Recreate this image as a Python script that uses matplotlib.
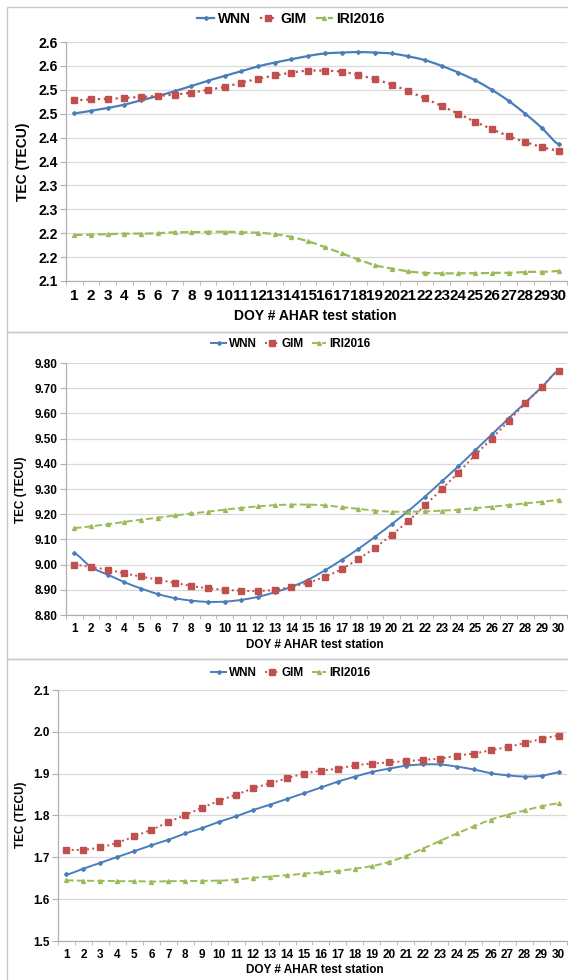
import numpy as np
import matplotlib
matplotlib.use("Agg")
import matplotlib.pyplot as plt
from matplotlib.patches import Rectangle

plt.rcParams['font.family'] = ['Liberation Sans', 'DejaVu Sans']

# ---- data ----
doy = list(range(1, 31))

# panel 1
wnn_1 = [2.451, 2.456, 2.462, 2.469, 2.478, 2.487, 2.497, 2.508, 2.519, 2.529,
         2.539, 2.549, 2.557, 2.564, 2.571, 2.576, 2.578, 2.579, 2.578, 2.576,
         2.570, 2.562, 2.550, 2.536, 2.520, 2.500, 2.477, 2.450, 2.420, 2.386]
gim_1 = [2.478, 2.480, 2.481, 2.483, 2.485, 2.487, 2.490, 2.494, 2.500, 2.506,
         2.515, 2.523, 2.530, 2.536, 2.540, 2.540, 2.538, 2.531, 2.522, 2.511,
         2.497, 2.482, 2.466, 2.450, 2.433, 2.418, 2.403, 2.391, 2.380, 2.373]
iri_1 = [2.196, 2.197, 2.198, 2.199, 2.199, 2.200, 2.202, 2.202, 2.203, 2.203,
         2.202, 2.201, 2.198, 2.192, 2.183, 2.171, 2.158, 2.145, 2.133, 2.126,
         2.120, 2.117, 2.116, 2.116, 2.116, 2.117, 2.117, 2.119, 2.119, 2.121]
yticks_1 = [2.10, 2.15, 2.20, 2.25, 2.30, 2.35, 2.40, 2.45, 2.50, 2.55, 2.60]
ylabels_1 = ["2.1", "2.2", "2.2", "2.3", "2.3", "2.4", "2.4", "2.5", "2.5", "2.6", "2.6"]

# panel 2
wnn_2 = [9.045, 8.990, 8.960, 8.930, 8.905, 8.883, 8.867, 8.857, 8.852, 8.853,
         8.860, 8.872, 8.890, 8.912, 8.940, 8.977, 9.018, 9.062, 9.110, 9.160,
         9.213, 9.270, 9.330, 9.390, 9.454, 9.517, 9.580, 9.643, 9.705, 9.770]
gim_2 = [9.000, 8.990, 8.980, 8.965, 8.953, 8.940, 8.928, 8.915, 8.906, 8.900,
         8.896, 8.895, 8.900, 8.912, 8.928, 8.952, 8.982, 9.022, 9.067, 9.118,
         9.173, 9.235, 9.300, 9.365, 9.435, 9.500, 9.570, 9.640, 9.705, 9.770]
iri_2 = [9.145, 9.152, 9.160, 9.170, 9.178, 9.186, 9.195, 9.203, 9.210, 9.218,
         9.225, 9.231, 9.236, 9.238, 9.238, 9.235, 9.228, 9.221, 9.214, 9.210,
         9.210, 9.211, 9.214, 9.218, 9.224, 9.230, 9.236, 9.243, 9.250, 9.256]
yticks_2 = [8.80, 8.90, 9.00, 9.10, 9.20, 9.30, 9.40, 9.50, 9.60, 9.70, 9.80]
ylabels_2 = ["8.80", "8.90", "9.00", "9.10", "9.20", "9.30", "9.40", "9.50", "9.60", "9.70", "9.80"]

# panel 3
wnn_3 = [1.659, 1.673, 1.687, 1.701, 1.715, 1.729, 1.742, 1.757, 1.770, 1.785,
         1.798, 1.813, 1.826, 1.840, 1.853, 1.867, 1.881, 1.893, 1.904, 1.912,
         1.919, 1.922, 1.922, 1.917, 1.910, 1.901, 1.896, 1.893, 1.895, 1.903]
gim_3 = [1.718, 1.718, 1.724, 1.735, 1.750, 1.766, 1.784, 1.801, 1.819, 1.835,
         1.850, 1.865, 1.877, 1.889, 1.900, 1.907, 1.912, 1.920, 1.924, 1.927,
         1.930, 1.933, 1.936, 1.943, 1.948, 1.956, 1.964, 1.973, 1.983, 1.991]
iri_3 = [1.645, 1.644, 1.644, 1.643, 1.643, 1.642, 1.643, 1.643, 1.644, 1.644,
         1.647, 1.651, 1.654, 1.657, 1.661, 1.664, 1.667, 1.673, 1.679, 1.689,
         1.703, 1.721, 1.739, 1.757, 1.774, 1.790, 1.802, 1.812, 1.822, 1.829]
yticks_3 = [1.5, 1.6, 1.7, 1.8, 1.9, 2.0, 2.1]
ylabels_3 = ["1.5", "1.6", "1.7", "1.8", "1.9", "2.0", "2.1"]

series_names = ["WNN", "GIM", "IRI2016"]
c_wnn = "#4a7ebb"
c_gim = "#c0504d"
c_iri = "#9bbb59"

W, H = 568., 980.


def smooth(x, y, n=12):
    """Catmull-Rom style smoothing, close to Excel's 'smoothed line'."""
    x = np.asarray(x, float)
    y = np.asarray(y, float)
    xs, ys = [], []
    for i in range(len(x) - 1):
        p0 = y[i - 1] if i > 0 else y[i]
        p1, p2 = y[i], y[i + 1]
        p3 = y[i + 2] if i + 2 < len(y) else y[i + 1]
        t = np.linspace(0, 1, n, endpoint=False)
        yy = 0.5 * ((2 * p1) + (-p0 + p2) * t + (2 * p0 - 5 * p1 + 4 * p2 - p3) * t ** 2
                    + (-p0 + 3 * p1 - 3 * p2 + p3) * t ** 3)
        xs.append(x[i] + t * (x[i + 1] - x[i]))
        ys.append(yy)
    xs.append([x[-1]])
    ys.append([y[-1]])
    return np.concatenate(xs), np.concatenate(ys)


def px_axes(fig, left, top, right, bottom):
    return fig.add_axes([left / W, 1 - bottom / H, (right - left) / W, (bottom - top) / H])


def draw_panel(fig, box, data, yticks, ylabels, fs, xfs, lw, legend_y, ylab_pos, xlab_y):
    ax = px_axes(fig, *box)
    wnn, gim, iri = data
    styles = [(wnn, c_wnn, "-", "D", 2.0),
              (gim, c_gim, ":", "s", 4.0),
              (iri, c_iri, "--", "^", 2.8)]
    for y, col, ls, mk, ms in styles:
        sx, sy = smooth(doy, y)
        ax.plot(sx, sy, color=col, ls=ls, lw=lw, zorder=3)
        ax.plot(doy, y, ls="none", marker=mk, ms=ms, color=col, mec=col, zorder=4)
    ax.set_xlim(0.5, 30.5)
    ax.set_ylim(yticks[0], yticks[-1])
    ax.set_yticks(yticks)
    ax.set_yticklabels(ylabels, fontsize=fs, fontweight="bold")
    ax.set_xticks(doy)
    ax.set_xticklabels([str(d) for d in doy], fontsize=xfs, fontweight="bold")
    ax.set_xticks(np.arange(0.5, 31, 1), minor=True)
    ax.tick_params(axis="x", which="major", length=0, pad=6)
    ax.tick_params(axis="x", which="minor", length=3, color="#b0b0b0")
    ax.tick_params(axis="y", length=4, color="#b0b0b0", pad=2)
    ax.grid(axis="y", color="#d9d9d9", lw=0.9)
    ax.set_axisbelow(True)
    for s in ["top", "right"]:
        ax.spines[s].set_visible(False)
    for s in ["left", "bottom"]:
        ax.spines[s].set_color("#b0b0b0")
        ax.spines[s].set_linewidth(0.9)
    # legend above the plot
    handles = [plt.Line2D([], [], color=col, ls=ls, marker=mk, ms=ms, lw=lw)
               for _, col, ls, mk, ms in styles]
    fig.legend(handles, series_names, loc="center", bbox_to_anchor=(291 / W, 1 - legend_y / H),
               ncol=3, frameon=False, handlelength=1.2, handletextpad=0.25, columnspacing=0.7,
               prop={"weight": "bold", "size": fs})
    fig.text(ylab_pos[0] / W, 1 - ylab_pos[1] / H, "TEC (TECU)", rotation=90,
             ha="center", va="center", fontsize=fs, fontweight="bold")
    fig.text(315 / W, 1 - xlab_y / H, "DOY # AHAR test station",
             ha="center", va="center", fontsize=fs, fontweight="bold")
    return ax


fig = plt.figure(figsize=(W / 100, H / 100), dpi=100)

# panel frames
for top, bot in [(7, 332), (332, 659), (659, 985)]:
    fig.patches.append(Rectangle((7 / W, 1 - bot / H), 1.0, (bot - top) / H,
                                 transform=fig.transFigure, fill=False,
                                 ec="#c8c8c8", lw=1.0))

draw_panel(fig, (66, 42, 567, 281), (wnn_1, gim_1, iri_1), yticks_1, ylabels_1,
           fs=10, xfs=11, lw=1.6, legend_y=19, ylab_pos=(23, 162), xlab_y=316)
draw_panel(fig, (66, 363, 567, 615), (wnn_2, gim_2, iri_2), yticks_2, ylabels_2,
           fs=8.5, xfs=8.5, lw=1.4, legend_y=344, ylab_pos=(21, 490), xlab_y=645)
draw_panel(fig, (58, 690, 567, 941), (wnn_3, gim_3, iri_3), yticks_3, ylabels_3,
           fs=8.5, xfs=8.5, lw=1.4, legend_y=673, ylab_pos=(21, 815), xlab_y=970)

fig.savefig("out.png", dpi=100)
